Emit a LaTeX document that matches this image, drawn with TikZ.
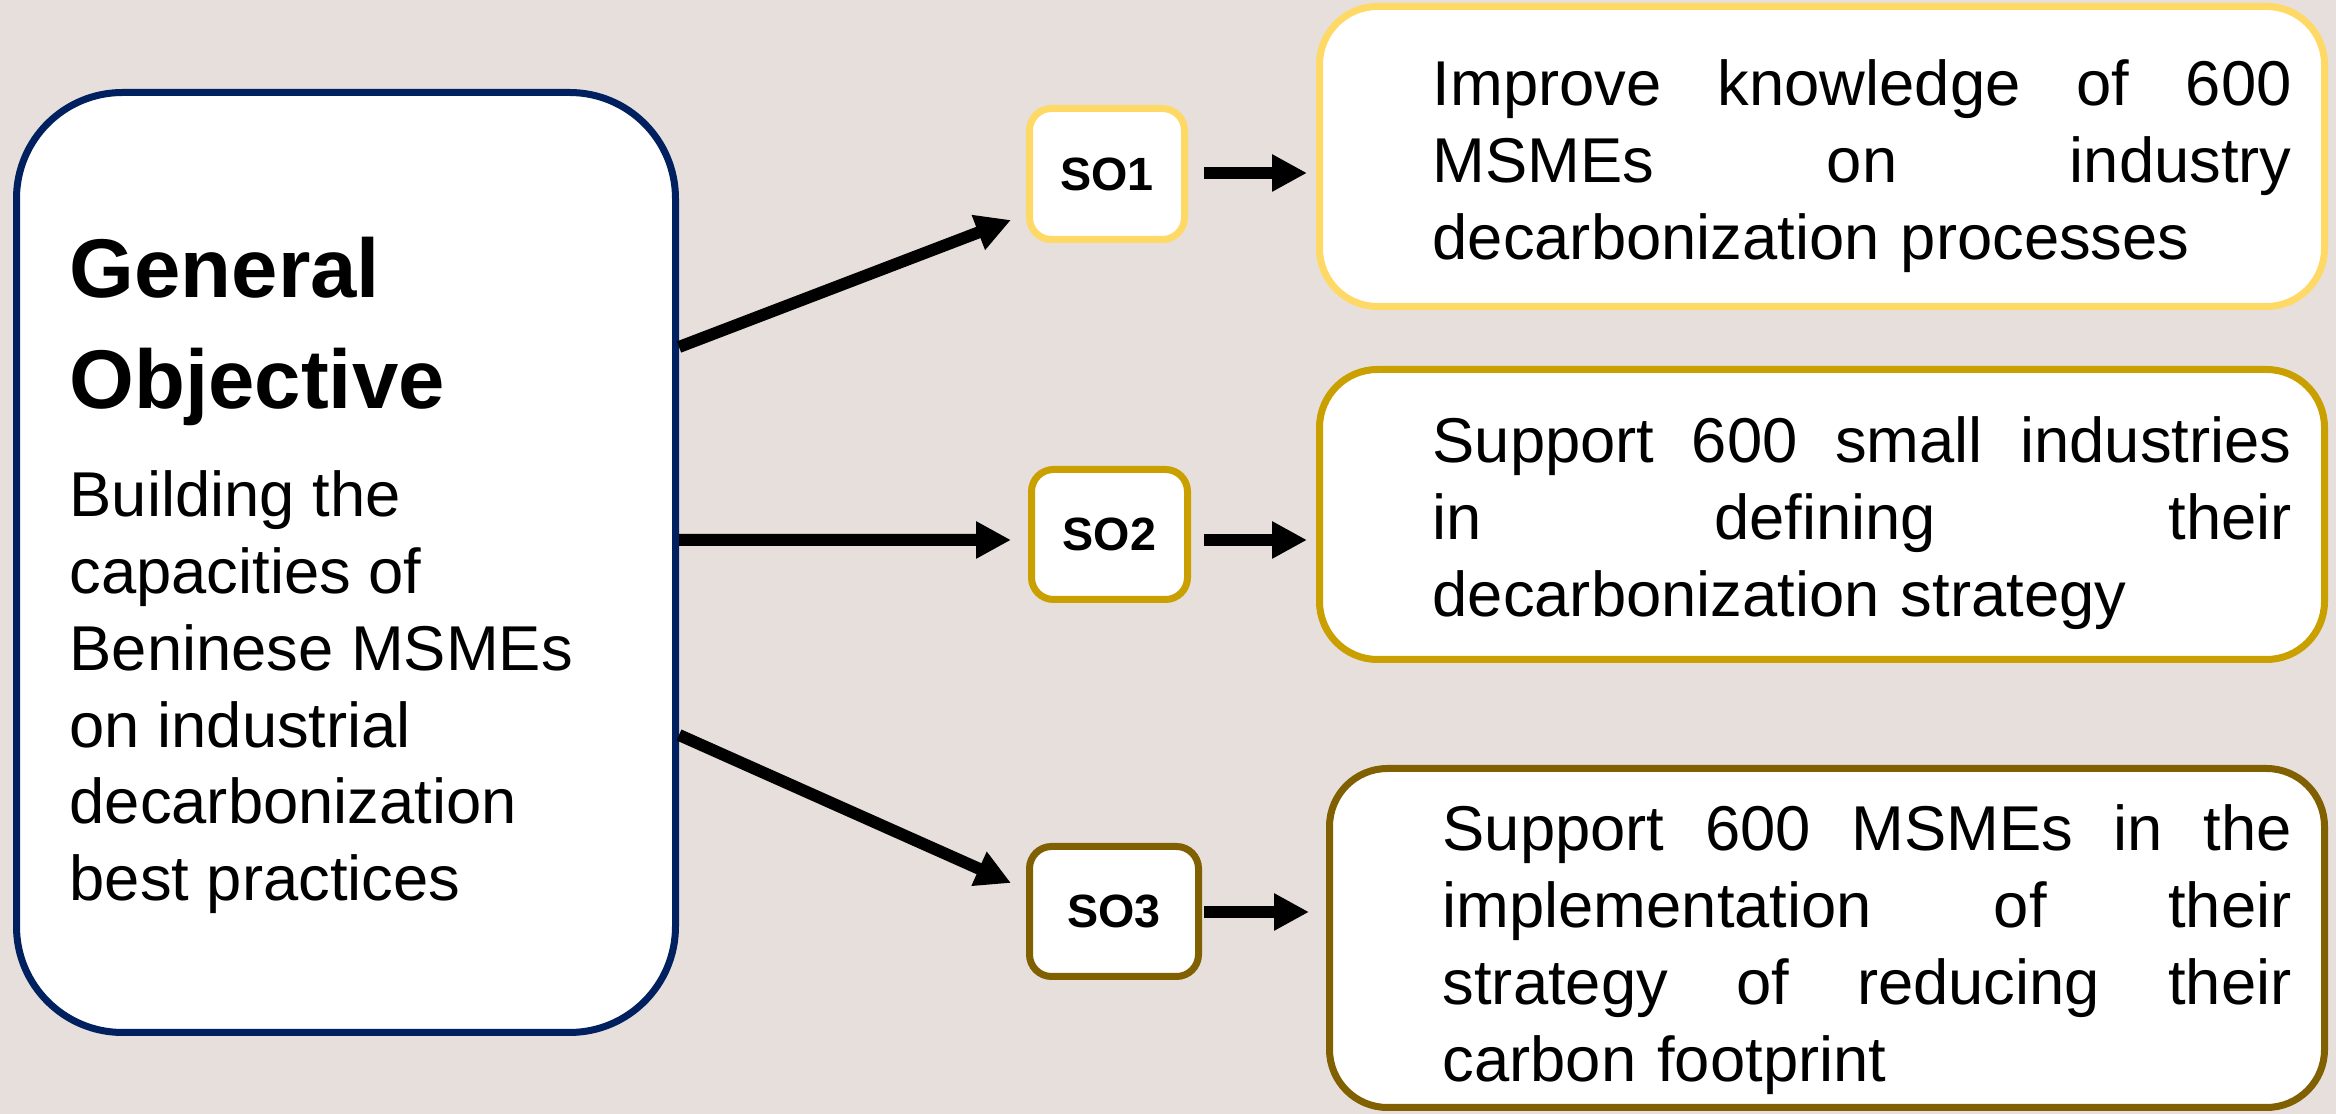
\documentclass[tikz,border=0pt]{standalone}
\usepackage{fontspec}
\setmainfont{Liberation Sans}
\usetikzlibrary{arrows.meta,calc}
\definecolor{bg}{RGB}{230,223,220}
\definecolor{navy}{RGB}{0,32,96}
\definecolor{yel}{RGB}{255,217,102}
\definecolor{gold}{RGB}{201,160,0}
\definecolor{olive}{RGB}{128,96,0}
\begin{document}
\begin{tikzpicture}[x=0.3pt,y=-0.3pt,
  box/.style={draw, fill=white, line width=2.1pt, rectangle, inner sep=0pt},
  sobox/.style={box, rounded corners=6.6pt, minimum height=39pt, font=\bfseries\fontsize{14pt}{16pt}\selectfont},
  rbox/.style={box, rounded corners=17.4pt},
  arr/.style={-{Triangle[length=10.5pt,width=10.5pt]}, line width=3.6pt, black},
  txt/.style={anchor=north west, inner sep=0pt, align=left, font=\fontsize{19pt}{23.05pt}\selectfont},
  rtxt/.style={anchor=north west, inner sep=0pt, font=\fontsize{19pt}{23.1pt}\selectfont}]
\fill[bg] (0,0) rectangle (2336,1114);
\useasboundingbox (0,0) rectangle (2336,1114);

% general objective
\node[box, draw=navy, rounded corners=31.8pt, minimum width=197.7pt, minimum height=282pt] (main) at (346,562.5) {};
\node[txt, font=\bfseries\fontsize{25pt}{33.3pt}\selectfont] (gotitle) at (69,230.3) {\rule{0pt}{0.8em}General\\Objective};
\node[txt] (gobody) at (69,465.3) {\rule{0pt}{0.8em}Building the\\capacities of\\Beninese MSMEs\\on industrial\\decarbonization\\best practices};

% specific objectives
\node[sobox, draw=yel, minimum width=46.5pt, minimum height=39.3pt] (so1) at (1107,174) {SO1};
\node[sobox, draw=gold, minimum width=46.8pt] (so2) at (1109.5,534.5) {SO2};
\node[sobox, draw=olive, minimum width=50.7pt] (so3) at (1114,911.5) {SO3};

% result boxes
\node[rbox, draw=yel, minimum width=301.5pt, minimum height=90pt] (r1) at (1822,156.5) {};
\node[rbox, draw=gold, minimum width=301.5pt, minimum height=87pt] (r2) at (1822,514.5) {};
\node[rbox, draw=olive, minimum width=298.5pt, minimum height=101.7pt] (r3) at (1827,938) {};

\node[rtxt, text width=257.7pt] (r1t) at (1432,54.3) {\noindent\rule{0pt}{0.8em}Improve\hfill knowledge\hfill of\hfill 600\\MSMEs\hfill on\hfill industry\\decarbonization processes};
\node[rtxt, text width=257.7pt] (r2t) at (1432,411.3) {\noindent\rule{0pt}{0.8em}Support\hfill 600\hfill small\hfill industries\\in\hfill defining\hfill their\\decarbonization strategy};
\node[rtxt, text width=254.7pt] (r3t) at (1442,799.3) {\noindent\rule{0pt}{0.8em}Support\hfill 600\hfill MSMEs\hfill in\hfill the\\implementation\hfill of\hfill their\\strategy\hfill of\hfill reducing\hfill their\\carbon footprint};

% connectors
\draw[arr] ($(main.east)+(0,-215.5)$) -- ($(so1.west)+(-15,46)$);
\draw[arr] ($(main.east)+(0,-22.5)$) -- ($(so2.west)+(-17,5.5)$);
\draw[arr] ($(main.east)+(0,172.5)$) -- ($(so3.west)+(-15,-28.5)$);

\draw[arr] ($(so1.east)+(16,-1)$) -- ($(so1.east -| r1.west)+(-9,-1)$);
\draw[arr] ($(so2.east)+(13,5.5)$) -- ($(so2.east -| r2.west)+(-9,5.5)$);
\draw[arr] ($(so3.east)+(2,0.5)$) -- ($(so3.east -| r3.west)+(-17,0.5)$);
\end{tikzpicture}
\end{document}
